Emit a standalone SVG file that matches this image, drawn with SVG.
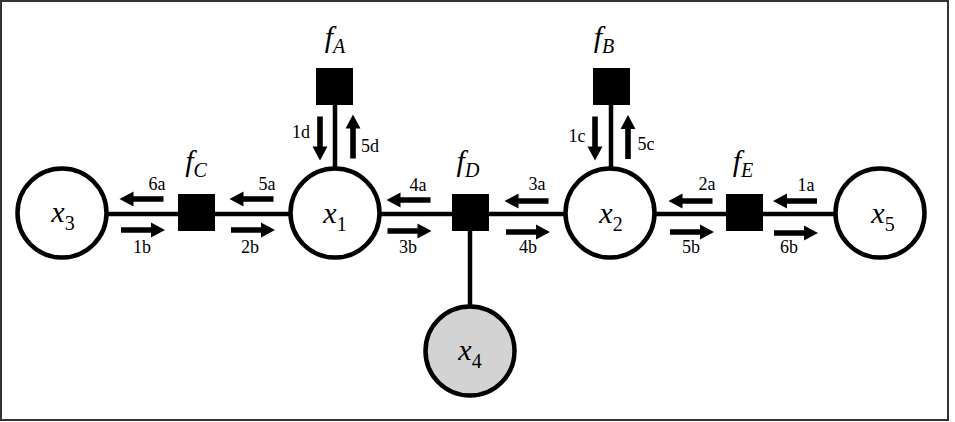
<svg xmlns="http://www.w3.org/2000/svg" xmlns:xlink="http://www.w3.org/1999/xlink" width="955" height="422" viewBox="0 0 955 422">
<style>
.var{fill:#fff;stroke:#000;stroke-width:4.5}
.obs{fill:#d3d3d3;stroke:#000;stroke-width:4.5}
.fac{fill:#000}
.edge{stroke:#000;stroke-width:4.5;fill:none}
.lbl{font-size:18px;text-anchor:middle}
.nm{font-size:30px;font-style:italic;text-anchor:middle}
.sub{font-size:20px;font-style:normal}
.fsub{font-size:20px;font-style:italic}
</style>
<defs>
<path id="arr" d="M-22,-2.8 L8,-2.8 L8,-7.5 L22,0 L8,7.5 L8,2.8 L-22,2.8 Z" fill="#000"/>
</defs>
<rect x="1" y="1" width="947" height="419" fill="#fff" stroke="#333" stroke-width="2"/>
<g id="connectors">
<line class="edge" x1="106" y1="214" x2="290" y2="214"/>
<line class="edge" x1="380" y1="214" x2="565" y2="214"/>
<line class="edge" x1="655" y1="214" x2="835" y2="214"/>
<line class="edge" x1="335" y1="100" x2="335" y2="168"/>
<line class="edge" x1="611" y1="100" x2="611" y2="168"/>
<line class="edge" x1="470" y1="225" x2="470" y2="306"/>
</g>
<g id="messages" font-family="Liberation Serif, Times New Roman, serif">
<use xlink:href="#arr" transform="translate(141.5,199) rotate(180)"/>
<use xlink:href="#arr" transform="translate(143,230)"/>
<use xlink:href="#arr" transform="translate(251.5,199) rotate(180)"/>
<use xlink:href="#arr" transform="translate(253,230)"/>
<use xlink:href="#arr" transform="translate(408.5,200) rotate(180)"/>
<use xlink:href="#arr" transform="translate(409.5,231)"/>
<use xlink:href="#arr" transform="translate(526.5,201) rotate(180)"/>
<use xlink:href="#arr" transform="translate(528,232)"/>
<use xlink:href="#arr" transform="translate(690.5,201) rotate(180)"/>
<use xlink:href="#arr" transform="translate(692,232)"/>
<use xlink:href="#arr" transform="translate(795,201) rotate(180)"/>
<use xlink:href="#arr" transform="translate(796,233)"/>
<use xlink:href="#arr" transform="translate(320,138.5) rotate(90)"/>
<use xlink:href="#arr" transform="translate(353,136.5) rotate(-90)"/>
<use xlink:href="#arr" transform="translate(595,138.5) rotate(90)"/>
<use xlink:href="#arr" transform="translate(628,137) rotate(-90)"/>
<text class="lbl" x="157" y="190">6a</text>
<text class="lbl" x="142" y="253">1b</text>
<text class="lbl" x="267" y="190">5a</text>
<text class="lbl" x="250" y="253">2b</text>
<text class="lbl" x="418" y="191">4a</text>
<text class="lbl" x="408" y="253">3b</text>
<text class="lbl" x="537" y="190">3a</text>
<text class="lbl" x="528" y="253">4b</text>
<text class="lbl" x="707" y="190">2a</text>
<text class="lbl" x="691" y="253">5b</text>
<text class="lbl" x="806" y="191">1a</text>
<text class="lbl" x="789" y="253">6b</text>
<text class="lbl" x="301" y="138">1d</text>
<text class="lbl" x="370" y="152">5d</text>
<text class="lbl" x="577" y="142">1c</text>
<text class="lbl" x="646" y="150">5c</text>
</g>
<g id="nodes" font-family="Liberation Serif, Times New Roman, serif">
<g id="x3"><circle class="var" cx="62" cy="213" r="44.5"/><text class="nm" x="63" y="222">x<tspan class="sub" dy="8">3</tspan></text></g>
<g id="x1"><circle class="var" cx="335" cy="213" r="44.5"/><text class="nm" x="335" y="223">x<tspan class="sub" dy="8">1</tspan></text></g>
<g id="x2"><circle class="var" cx="610" cy="213" r="44.5"/><text class="nm" x="611" y="223">x<tspan class="sub" dy="8">2</tspan></text></g>
<g id="x5"><circle class="var" cx="880" cy="213" r="44.5"/><text class="nm" x="883" y="223">x<tspan class="sub" dy="8">5</tspan></text></g>
<g id="x4"><circle class="obs" cx="470" cy="351" r="44.5"/><text class="nm" x="470" y="360">x<tspan class="sub" dy="8">4</tspan></text></g>
<g id="fC"><rect class="fac" x="178" y="194" width="37" height="37"/><text class="nm" x="196" y="171">f<tspan class="fsub" dy="6">C</tspan></text></g>
<g id="fA"><rect class="fac" x="316" y="68" width="37" height="37"/><text class="nm" x="335" y="47">f<tspan class="fsub" dy="6">A</tspan></text></g>
<g id="fD"><rect class="fac" x="452" y="194" width="37" height="37"/><text class="nm" x="468" y="171">f<tspan class="fsub" dy="6">D</tspan></text></g>
<g id="fB"><rect class="fac" x="593" y="68" width="37" height="37"/><text class="nm" x="604" y="47">f<tspan class="fsub" dy="6">B</tspan></text></g>
<g id="fE"><rect class="fac" x="726" y="194" width="37" height="37"/><text class="nm" x="743" y="171">f<tspan class="fsub" dy="6">E</tspan></text></g>
</g>
</svg>
